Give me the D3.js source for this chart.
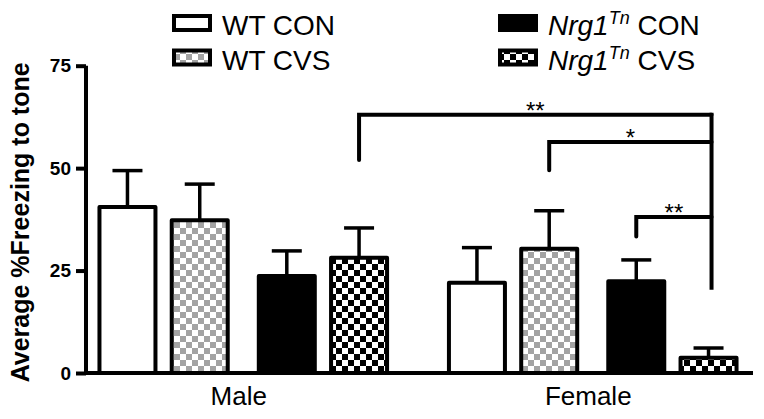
<!DOCTYPE html>
<html>
<head>
<meta charset="utf-8">
<script src="https://cdn.jsdelivr.net/npm/d3@7/dist/d3.min.js"></script>
<style>
  html, body { margin: 0; padding: 0; background: #fff; }
  svg { display: block; font-family: "Liberation Sans", Arial, sans-serif; }
</style>
</head>
<body>
<svg id="chart" width="764" height="419"></svg>
<script>
// ---------- data ----------
const groups = ["Male", "Female"];
const series = ["WT CON", "WT CVS", "Nrg1 CON", "Nrg1 CVS"];
const maleMeans   = [40.5, 37.3, 23.7, 28.1];
const maleSEM     = [8.9, 8.8, 6.1, 7.3];
const femaleMeans = [22.0, 30.3, 22.4, 3.7];
const femaleSEM   = [8.6, 9.3, 5.2, 2.4];
const yTicks = [0, 25, 50, 75];
const yTitle = "Average %Freezing to tone";
// significance brackets: left bar (group, series index) -> right bar, level, left drop, label
const bracketLeftGroup  = ["Male", "Female", "Female"];
const bracketLeftSeries = [3, 1, 2];
const bracketLevel      = [63.0, 56.4, 38.1];
const bracketLeftEnd    = [52.0, 49.5, 33.3];
const bracketLabel      = ["**", "*", "**"];
const bracketRightGroup = "Female";
const bracketRightSeries = 3;
const bracketRightEnd   = 20.3;

// ---------- layout ----------
const svg = d3.select("#chart");
const W = 764, H = 419;
const x0 = 86, x1 = 750, yBase = 373, yTop = 65.7;
const font = '"Liberation Sans", Arial, sans-serif';

const y = d3.scaleLinear().domain([0, 75]).range([yBase, yTop]);
const gx = d3.scalePoint().domain(groups).range([x0, x1]).padding(0.45);
const inner = d3.scalePoint().domain(series).range([-108.4, 108.4]);
const pairGap = 14.8;
const barW = 56;
function cx(g, s) {
  const i = series.indexOf(s);
  return gx(g) + inner(s) + (i >= 2 ? pairGap / 2 : -pairGap / 2);
}

// ---------- patterns ----------
const defs = svg.append("defs");
function checker(id, color) {
  const p = defs.append("pattern").attr("id", id)
    .attr("patternUnits", "userSpaceOnUse").attr("width", 12).attr("height", 12);
  p.append("rect").attr("width", 12).attr("height", 12).attr("fill", "#fff");
  p.append("rect").attr("x", 0).attr("y", 0).attr("width", 6).attr("height", 6).attr("fill", color);
  p.append("rect").attr("x", 6).attr("y", 6).attr("width", 6).attr("height", 6).attr("fill", color);
}
checker("grayCheck", "#a3a3a3");
checker("blackCheck", "#000");
const fills = d3.scaleOrdinal().domain(series)
  .range(["#fff", "url(#grayCheck)", "#000", "url(#blackCheck)"]);

svg.append("rect").attr("width", W).attr("height", H).attr("fill", "#fff");

// ---------- data rows ----------
const rows = [];
groups.forEach((g, gi) => {
  const means = gi === 0 ? maleMeans : femaleMeans;
  const sems = gi === 0 ? maleSEM : femaleSEM;
  series.forEach((s, si) => rows.push({ g, s, v: means[si], e: sems[si] }));
});

// error bars
const eb = svg.append("g").attr("stroke", "#000").attr("stroke-width", 3.5);
eb.selectAll("line.v").data(rows).join("line").attr("class", "v")
  .attr("x1", d => cx(d.g, d.s)).attr("x2", d => cx(d.g, d.s))
  .attr("y1", d => y(d.v)).attr("y2", d => y(d.v + d.e));
eb.selectAll("line.c").data(rows).join("line").attr("class", "c")
  .attr("x1", d => cx(d.g, d.s) - 15).attr("x2", d => cx(d.g, d.s) + 15)
  .attr("y1", d => y(d.v + d.e)).attr("y2", d => y(d.v + d.e));

// bars
svg.append("g").selectAll("rect").data(rows).join("rect")
  .attr("x", d => cx(d.g, d.s) - barW / 2)
  .attr("width", barW)
  .attr("y", d => y(d.v))
  .attr("height", d => y(0) - y(d.v))
  .attr("fill", d => fills(d.s))
  .attr("stroke", "#000").attr("stroke-width", 4)
  .attr("stroke-linejoin", "round");

// ---------- axes ----------
const yAxis = d3.axisLeft(y).tickValues(yTicks).tickSize(10).tickPadding(5);
const ya = svg.append("g").attr("transform", `translate(${x0},0)`).call(yAxis);
ya.select(".domain").attr("stroke", "#000").attr("stroke-width", 4).attr("d", `M0,${yTop}V${yBase + 2}`);
ya.selectAll(".tick line").attr("stroke", "#000").attr("stroke-width", 4);
ya.selectAll(".tick text").attr("font-family", font).attr("font-size", 19)
  .attr("font-weight", "bold").attr("fill", "#000");

const xAxis = d3.axisBottom(gx).tickSize(0).tickPadding(14);
const xa = svg.append("g").attr("transform", `translate(0,${yBase})`).call(xAxis);
xa.select(".domain").attr("stroke", "#000").attr("stroke-width", 4).attr("d", `M${x0 - 2},0H753`);
xa.selectAll(".tick text").attr("font-family", font).attr("font-size", 26)
  .attr("fill", "#000").attr("dx", -5);

svg.append("text")
  .attr("transform", `translate(29,${(yBase + yTop) / 2 + 3}) rotate(-90)`)
  .attr("text-anchor", "middle").attr("font-family", font)
  .attr("font-size", 25).attr("font-weight", "bold").text(yTitle);

// ---------- brackets ----------
const br = svg.append("g");
const rx = cx(bracketRightGroup, series[bracketRightSeries]) + 3;
br.append("line").attr("x1", rx).attr("x2", rx)
  .attr("y1", y(d3.max(bracketLevel)) - 2).attr("y2", y(bracketRightEnd))
  .attr("stroke", "#000").attr("stroke-width", 4);
bracketLevel.forEach((lv, i) => {
  const lx = cx(bracketLeftGroup[i], series[bracketLeftSeries[i]]);
  br.append("path")
    .attr("d", `M${lx},${y(bracketLeftEnd[i])}V${y(lv)}H${rx}`)
    .attr("fill", "none").attr("stroke", "#000").attr("stroke-width", 4)
    .attr("stroke-linecap", "round");
  br.append("text").attr("x", (lx + rx) / 2).attr("y", y(lv) + 4)
    .attr("text-anchor", "middle").attr("font-family", font).attr("font-size", 24)
    .text(bracketLabel[i]);
});

// ---------- legend ----------
const legX = [172, 498];
const legY = [23, 57.5];
const lg = svg.append("g");
series.forEach((s, i) => {
  const col = Math.floor(i / 2), row = i % 2;
  const sx = legX[col], sy = legY[row];
  lg.append("rect").attr("x", sx + 2).attr("y", sy - 7).attr("width", 36).attr("height", 14)
    .attr("fill", fills(s)).attr("stroke", "#000").attr("stroke-width", 4);
  const t = lg.append("text").attr("x", sx + 50).attr("y", sy + 12)
    .attr("font-family", font).attr("font-size", 28).attr("fill", "#000");
  if (s.startsWith("Nrg1")) {
    t.append("tspan").attr("font-style", "italic").text("Nrg1");
    t.append("tspan").attr("font-style", "italic").attr("font-size", 18).attr("dy", -11).text("Tn");
    t.append("tspan").attr("dy", 11).text(" " + s.split(" ")[1]);
  } else {
    t.text(s);
  }
});
</script>
</body>
</html>
